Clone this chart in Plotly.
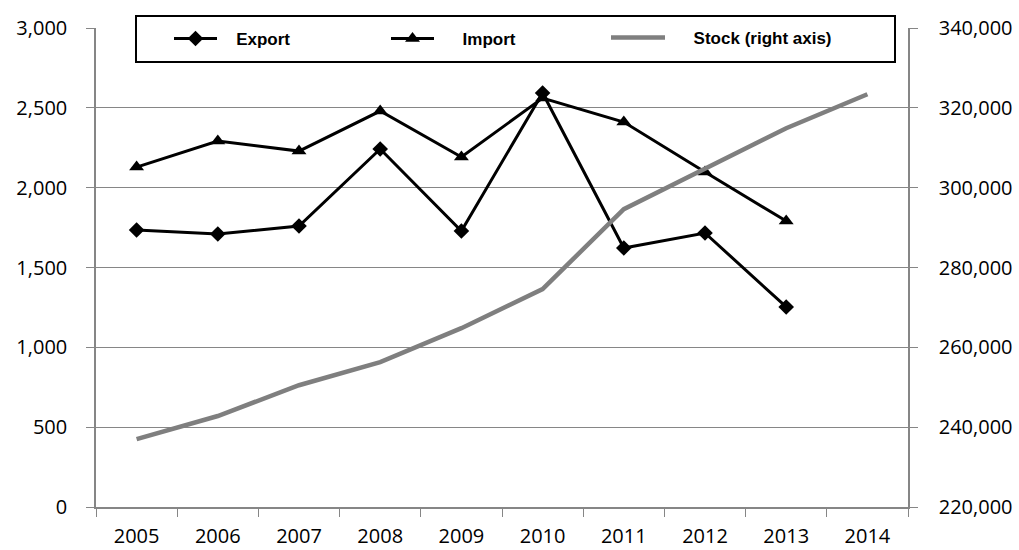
import plotly.graph_objects as go

years = ["2005", "2006", "2007", "2008", "2009", "2010", "2011", "2012", "2013", "2014"]
export_vals = [1735, 1710, 1760, 2242, 1729, 2593, 1622, 1716, 1253, None]
import_vals = [2129, 2292, 2229, 2480, 2192, 2561, 2411, 2098, 1791, None]
stock_vals = [237000, 242800, 250500, 256300, 264800, 274600, 294600, 304900, 314900, 323400]

AX = "#868686"
TICKFONT = dict(family="Open Sans", size=20, color="black")
NB = "\u00a0"

fig = go.Figure()
fig.add_trace(go.Scatter(x=years, y=export_vals, name=NB * 3 + "Export", mode="lines+markers",
                         line=dict(color="black", width=3),
                         marker=dict(symbol="diamond", size=12, color="black"),
                         legend="legend"))
fig.add_trace(go.Scatter(x=years, y=import_vals, name=NB * 5 + "Import", mode="lines+markers",
                         line=dict(color="black", width=3),
                         marker=dict(symbol="triangle-up", size=13, color="black"),
                         legend="legend2"))
fig.add_trace(go.Scatter(x=years, y=stock_vals, name=NB * 5 + "Stock (right axis)", mode="lines",
                         line=dict(color="#7f7f7f", width=4.5), yaxis="y2",
                         legend="legend3"))

W, H = 1019, 550
L, R, T, B = 96, 908, 28, 507
pw, ph = R - L, B - T

def px(xp):
    return (xp - L) / pw

def py(yp):
    return (B - yp) / ph

legfont = dict(family="Liberation Sans", size=17, color="black", weight="bold")
common = dict(orientation="h", bgcolor="rgba(0,0,0,0)", borderwidth=0, font=legfont,
              xanchor="left", yanchor="middle")

fig.update_layout(
    width=W, height=H,
    margin=dict(l=L, r=W - R, t=T, b=H - B, pad=0),
    plot_bgcolor="white", paper_bgcolor="white",
    font=dict(family="Open Sans", size=16, color="black"),
    xaxis=dict(type="category", range=[-0.5, 9.5], tickson="boundaries",
               ticks="outside", ticklen=8, tickcolor=AX, showline=True, linecolor=AX,
               linewidth=1.5, showgrid=False, ticklabelstandoff=10, automargin=False,
               tickfont=TICKFONT),
    yaxis=dict(range=[0, 3000], dtick=500, tickformat=",", ticks="outside", ticklen=8,
               tickcolor=AX, showline=True, linecolor=AX, linewidth=1.5,
               showgrid=True, gridcolor=AX, gridwidth=1, zeroline=False,
               ticklabelstandoff=15, automargin=False, tickfont=TICKFONT),
    yaxis2=dict(range=[220000, 340000], dtick=20000, tickformat=",", overlaying="y",
                side="right", ticks="outside", ticklen=8, tickcolor=AX, showline=True,
                linecolor=AX, linewidth=1.5, showgrid=False, zeroline=False,
                ticklabelstandoff=17, automargin=False, tickfont=TICKFONT),
    legend=dict(x=px(169), y=py(39), itemwidth=43, **common),
    legend2=dict(x=px(386), y=py(39), itemwidth=43, **common),
    legend3=dict(x=px(606), y=py(38), itemwidth=54, **common),
    showlegend=True,
    shapes=[dict(type="rect", xref="paper", yref="paper",
                 x0=px(136), x1=px(895), y0=py(62), y1=py(16),
                 line=dict(color="black", width=2), fillcolor="white", layer="above")],
)

fig.write_html("out.html", config={"displayModeBar": False},
               post_script="document.body.style.margin='0';document.body.style.overflow='hidden';")
